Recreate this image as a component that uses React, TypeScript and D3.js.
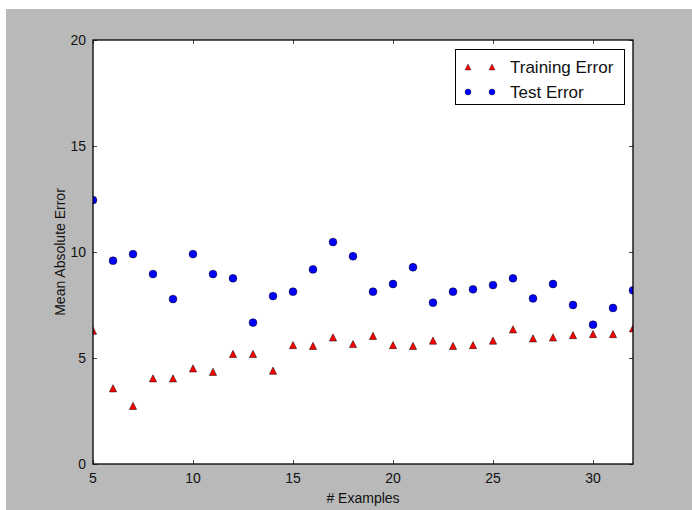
import React, { useEffect, useRef } from 'react';
import * as d3 from 'd3';

// number of training examples
const examples = [5, 6, 7, 8, 9, 10, 11, 12, 13, 14, 15, 16, 17, 18, 19, 20, 21, 22, 23, 24, 25, 26, 27, 28, 29, 30, 31, 32];

const trainingError = [6.29, 3.57, 2.74, 4.04, 4.04, 4.51, 4.35, 5.19, 5.19, 4.40, 5.61, 5.57, 5.97, 5.66,
  6.04, 5.61, 5.57, 5.82, 5.57, 5.61, 5.82, 6.35, 5.93, 5.97, 6.08, 6.13, 6.13, 6.40];

const testError = [12.45, 9.59, 9.9, 8.96, 7.78, 9.9, 8.96, 8.76, 6.67, 7.92, 8.13, 9.18, 10.47, 9.8,
  8.13, 8.49, 9.28, 7.61, 8.13, 8.24, 8.44, 8.76, 7.81, 8.49, 7.5, 6.57, 7.36, 8.19];

const xTicks = [5, 10, 15, 20, 25, 30];
const yTicks = [0, 5, 10, 15, 20];

const FONT = '"Liberation Sans", Arial, Helvetica, sans-serif';

// matplotlib style '^' marker, centred on its bounding box
const tri = (h: number) => `M0,${-h}L${-h},${h}L${h},${h}Z`;

const App = () => {
  const svgRef = useRef<SVGSVGElement>(null);

  useEffect(() => {
    const svg = d3.select(svgRef.current);
    svg.selectAll('*').remove();

    const W = 692, H = 510;
    const left = 93, right = 633, top = 40, bottom = 464;

    // figure background
    svg.append('rect').attr('width', W).attr('height', H).attr('fill', '#fff');
    svg.append('rect').attr('x', 6).attr('y', 9).attr('width', W - 6).attr('height', H - 9).attr('fill', '#b9b9b9');

    const x = d3.scaleLinear().domain([5, 32]).range([left, right]);
    const y = d3.scaleLinear().domain([0, 20]).range([bottom, top]);

    svg.append('rect')
      .attr('x', left).attr('y', top)
      .attr('width', right - left).attr('height', bottom - top)
      .attr('fill', '#fff');

    // ticks pointing inwards on all four sides
    const tickLen = 4;
    const ticks = svg.append('g').attr('stroke', '#444').attr('stroke-width', 1);
    xTicks.forEach(t => {
      const px = Math.round(x(t)) + 0.5;
      ticks.append('line').attr('x1', px).attr('x2', px).attr('y1', bottom).attr('y2', bottom - tickLen);
      ticks.append('line').attr('x1', px).attr('x2', px).attr('y1', top).attr('y2', top + tickLen);
    });
    yTicks.forEach(t => {
      const py = Math.round(y(t)) + 0.5;
      ticks.append('line').attr('x1', left).attr('x2', left + tickLen).attr('y1', py).attr('y2', py);
      ticks.append('line').attr('x1', right).attr('x2', right - tickLen).attr('y1', py).attr('y2', py);
    });

    // tick labels
    svg.append('g').selectAll('text').data(xTicks).enter().append('text')
      .attr('x', d => x(d)).attr('y', 483)
      .attr('text-anchor', 'middle')
      .style('font-family', FONT).style('font-size', '14px').attr('fill', '#111')
      .text(d => d);

    svg.append('g').selectAll('text').data(yTicks).enter().append('text')
      .attr('x', 86).attr('y', d => y(d) + 5)
      .attr('text-anchor', 'end')
      .style('font-family', FONT).style('font-size', '14px').attr('fill', '#111')
      .text(d => d);

    // axis labels
    svg.append('text')
      .attr('x', (left + right) / 2).attr('y', 503)
      .attr('text-anchor', 'middle')
      .style('font-family', FONT).style('font-size', '14px').attr('fill', '#111')
      .text('# Examples');

    svg.append('text')
      .attr('transform', `translate(65,${(top + bottom) / 2}) rotate(-90)`)
      .attr('text-anchor', 'middle')
      .style('font-family', FONT).style('font-size', '14px').attr('fill', '#111')
      .text('Mean Absolute Error');

    // data, clipped to the axes
    svg.append('clipPath').attr('id', 'plot-clip')
      .append('rect').attr('x', left).attr('y', top).attr('width', right - left).attr('height', bottom - top);
    const plot = svg.append('g').attr('clip-path', 'url(#plot-clip)');

    plot.selectAll('.train').data(examples).enter().append('path')
      .attr('class', 'train')
      .attr('d', tri(3.6))
      .attr('transform', (d, i) => `translate(${x(d)},${y(trainingError[i])})`)
      .attr('fill', '#ff0000').attr('stroke', '#000').attr('stroke-width', 0.5);

    plot.selectAll('.test').data(examples).enter().append('circle')
      .attr('class', 'test')
      .attr('cx', d => x(d)).attr('cy', (d, i) => y(testError[i]))
      .attr('r', 3.9)
      .attr('fill', '#0000ff').attr('stroke', '#000').attr('stroke-width', 0.5);

    // axes frame
    svg.append('rect')
      .attr('x', left).attr('y', top)
      .attr('width', right - left).attr('height', bottom - top)
      .attr('fill', 'none').attr('stroke', '#000').attr('stroke-width', 1.3);

    // legend
    const lg = svg.append('g');
    lg.append('rect')
      .attr('x', 455.5).attr('y', 49.5).attr('width', 169).attr('height', 55)
      .attr('fill', '#fff').attr('stroke', '#000').attr('stroke-width', 1);
    const rows = [
      { label: 'Training Error', y: 67, kind: 'tri' },
      { label: 'Test Error', y: 92, kind: 'dot' },
    ];
    rows.forEach(r => {
      [468, 492].forEach(mx => {
        if (r.kind === 'tri') {
          lg.append('path').attr('d', tri(2.9))
            .attr('transform', `translate(${mx},${r.y})`)
            .attr('fill', '#ff0000').attr('stroke', '#000').attr('stroke-width', 0.4);
        } else {
          lg.append('circle').attr('cx', mx).attr('cy', r.y).attr('r', 3)
            .attr('fill', '#0000ff').attr('stroke', '#000').attr('stroke-width', 0.4);
        }
      });
      lg.append('text')
        .attr('x', 510).attr('y', r.y + 6)
        .style('font-family', FONT).style('font-size', '17px').attr('fill', '#111')
        .text(r.label);
    });
  }, []);

  return (
    <div style={{ position: 'absolute', left: 0, top: 0 }}>
      <svg ref={svgRef} width={692} height={510} style={{ display: 'block' }} />
    </div>
  );
};

export default App;
